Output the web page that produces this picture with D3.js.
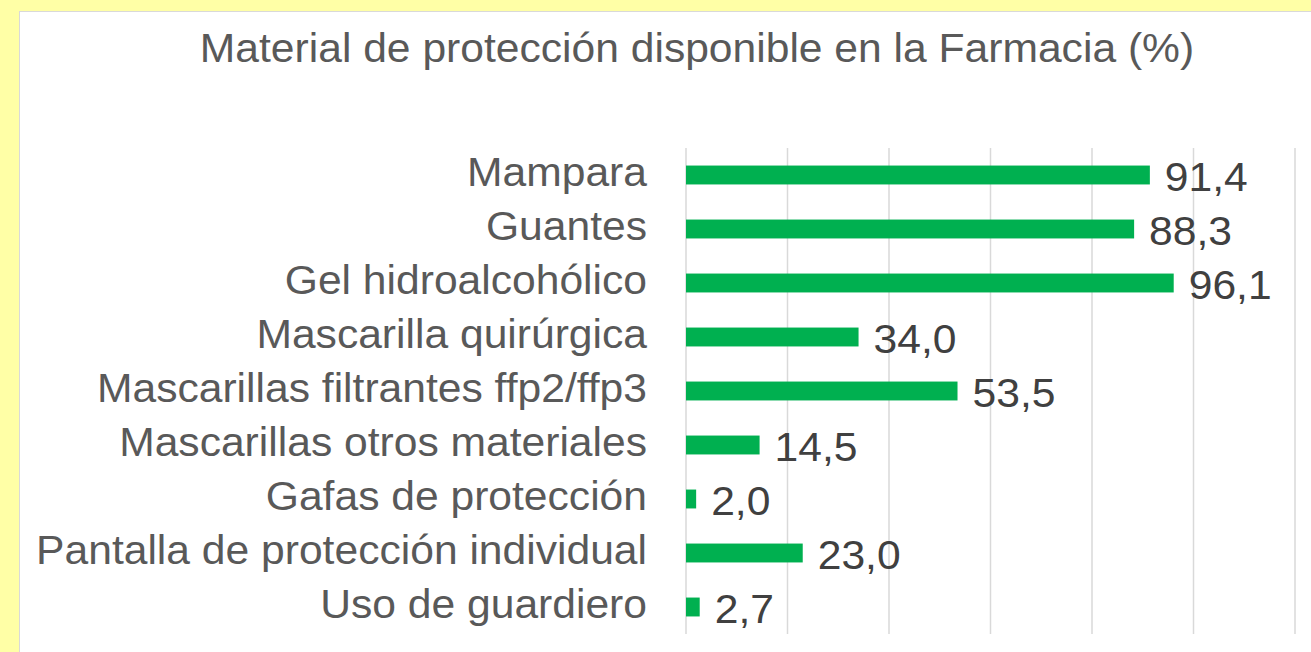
<!DOCTYPE html>
<html>
<head>
<meta charset="utf-8">
<script src="https://d3js.org/d3.v7.min.js"></script>
<style>
  html, body { margin: 0; padding: 0; background: #ffffa6; }
  svg { display: block; font-family: "Liberation Sans", Arial, sans-serif; }
</style>
</head>
<body>
<svg id="chart" width="1311" height="652"></svg>
<script>
// data
const categories = [
  "Mampara",
  "Guantes",
  "Gel hidroalcohólico",
  "Mascarilla quirúrgica",
  "Mascarillas filtrantes ffp2/ffp3",
  "Mascarillas otros materiales",
  "Gafas de protección",
  "Pantalla de protección individual",
  "Uso de guardiero"
];
const values = [91.4, 88.3, 96.1, 34.0, 53.5, 14.5, 2.0, 23.0, 2.7];
const xTicks = [0, 20, 40, 60, 80, 100, 120];
const title = "Material de protección disponible en la Farmacia (%)";

const svg = d3.select("#chart");
const W = 1311, H = 652;
const sx = 1.065; // text in the source is a bit wider than Arial

// white panel
svg.append("rect")
  .attr("x", 19.5).attr("y", 11.5)
  .attr("width", W + 20).attr("height", H + 20)
  .attr("fill", "#fff")
  .attr("stroke", "#d9d9d9")
  .attr("stroke-width", 1);

const x = d3.scaleLinear().domain([0, 120]).range([686, 1295]);
const y = d3.scaleBand().domain(categories).range([148, 634]).paddingInner(0.65).paddingOuter(0.325);

// gridlines
svg.append("g")
  .selectAll("line")
  .data(xTicks)
  .join("line")
  .attr("x1", d => x(d)).attr("x2", d => x(d))
  .attr("y1", 148).attr("y2", 634)
  .attr("stroke", "#d9d9d9")
  .attr("stroke-width", 1.5);

// title
svg.append("text")
  .attr("transform", "translate(697,62) scale(" + sx + ",1)")
  .attr("text-anchor", "middle")
  .attr("fill", "#595959")
  .style("font-size", "40px")
  .text(title);

// bars
svg.append("g")
  .selectAll("rect")
  .data(values)
  .join("rect")
  .attr("x", x(0))
  .attr("y", (d, i) => y(categories[i]))
  .attr("width", d => x(d) - x(0))
  .attr("height", y.bandwidth())
  .attr("fill", "#00b050");

// category labels
svg.append("g")
  .selectAll("text")
  .data(categories)
  .join("text")
  .attr("transform", d => "translate(" + (x(0) - 39) + "," + (y(d) + y.bandwidth() / 2) + ") scale(" + sx + ",1)")
  .attr("dy", "0.27em")
  .attr("text-anchor", "end")
  .attr("fill", "#595959")
  .style("font-size", "40px")
  .text(d => d);

// value labels
svg.append("g")
  .selectAll("text")
  .data(values)
  .join("text")
  .attr("transform", (d, i) => "translate(" + (x(d) + 15) + "," + (y(categories[i]) + y.bandwidth() / 2) + ") scale(" + sx + ",1)")
  .attr("dy", "0.39em")
  .attr("fill", "#404040")
  .style("font-size", "40px")
  .text(d => d.toFixed(1).replace(".", ","));
</script>
</body>
</html>
